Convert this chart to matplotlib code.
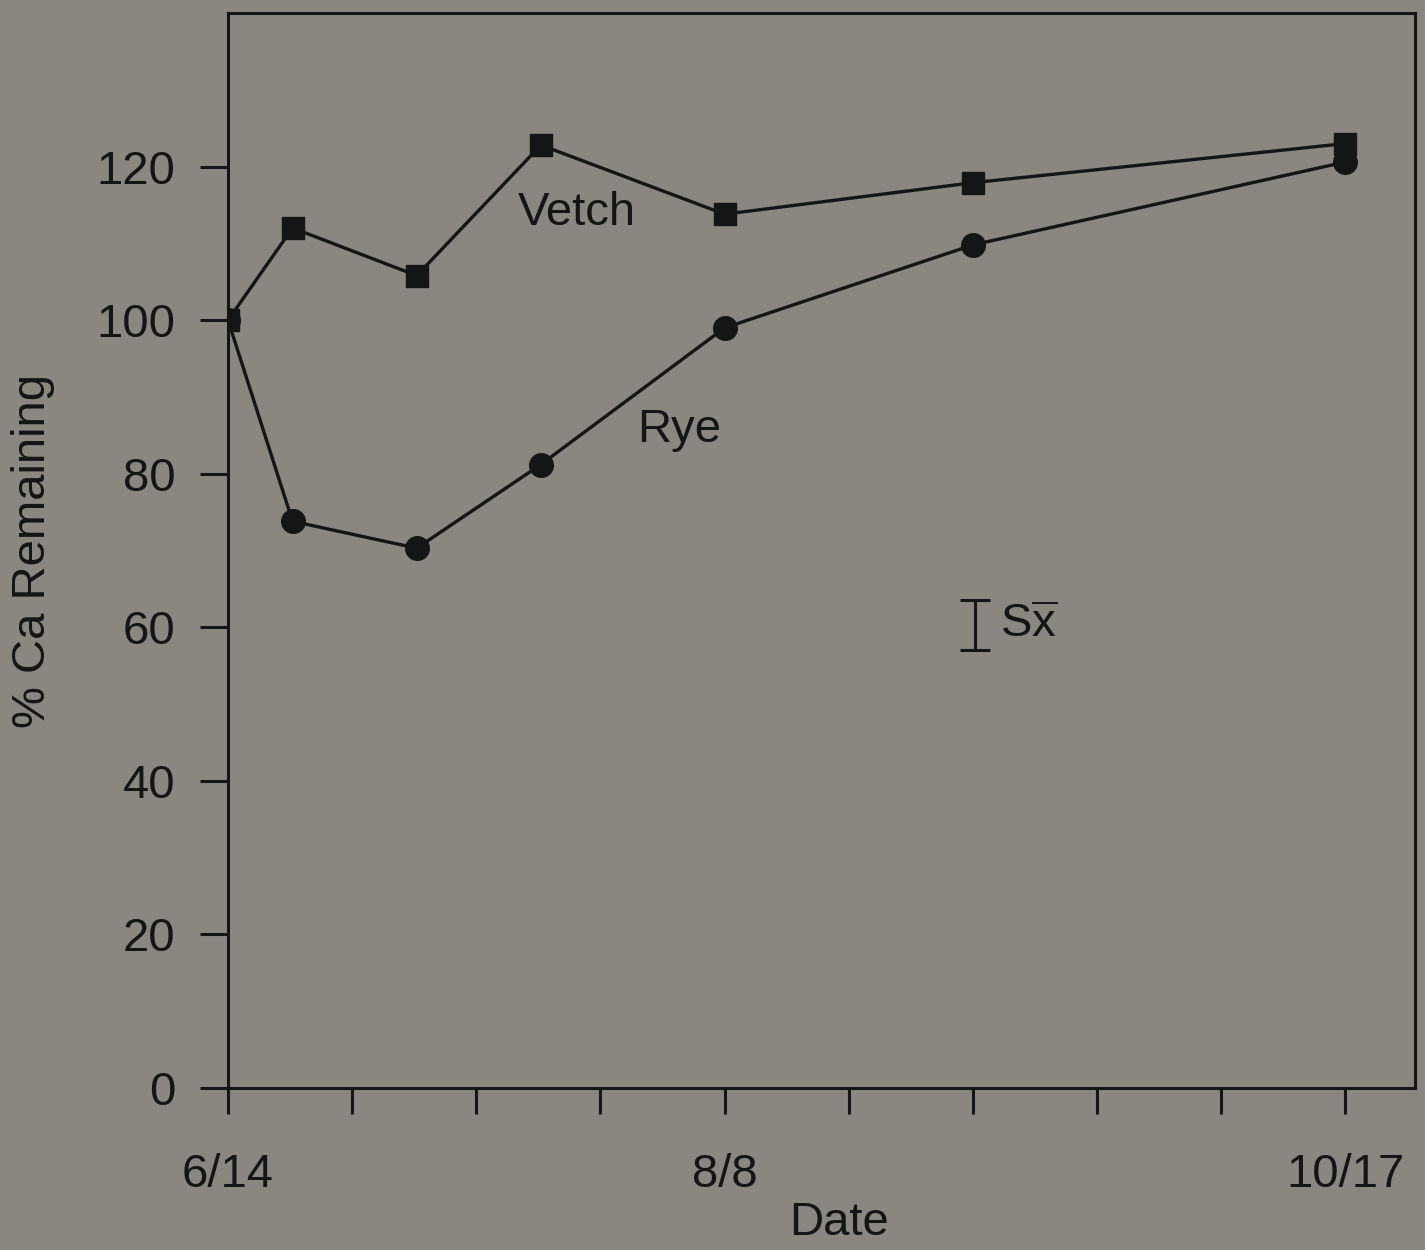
import matplotlib.pyplot as plt

plt.rcParams['font.family'] = ['Liberation Sans', 'DejaVu Sans']

# sampling positions on the date axis (one tick ~ two weeks)
sample_pos = [0, 0.52, 1.52, 2.52, 4, 6, 9]
vetch = [100, 112.0, 105.8, 122.8, 113.8, 117.9, 123.0]
rye = [100, 73.8, 70.3, 81.2, 99.0, 109.8, 120.6]

tick_pos = list(range(10))
tick_labels = ['6/14', '', '', '', '8/8', '', '', '', '', '10/17']

sx_pos = 6.02
sx_mid = 60.25
sx_half = 3.25

bg = '#8a8680'
ink = '#151515'
fs = 34

fig = plt.figure(figsize=(14.25, 12.5), dpi=100, facecolor=bg)
ax = fig.add_axes([0.16, 0.1296, 0.833, 0.86])
ax.set_facecolor(bg)

ax.plot(sample_pos, rye, '-', color=ink, lw=2.4, marker='o', ms=17, zorder=3)
ax.plot(sample_pos, vetch, '-', color=ink, lw=2.4, marker='s', ms=16, zorder=4)

ax.text(2.81, 113.9, 'Vetch', fontsize=fs, color=ink, ha='center', va='center')
ax.text(3.63, 85.7, 'Rye', fontsize=fs, color=ink, ha='center', va='center')

# standard error bar
ax.errorbar([sx_pos], [sx_mid], yerr=[sx_half], fmt='none', ecolor=ink,
            elinewidth=2.2, capsize=11, capthick=2.2)
ax.text(sx_pos + 0.2, sx_mid, r'$\mathregular{S\overline{x}}$', fontsize=fs,
        color=ink, ha='left', va='center')

ax.set_xlim(0, 9.56)
ax.set_ylim(0, 140)
ax.set_xticks(tick_pos)
ax.set_xticklabels(tick_labels)
ax.set_yticks([0, 20, 40, 60, 80, 100, 120])

for s in ax.spines.values():
    s.set_color(ink)
    s.set_linewidth(2.2)

ax.tick_params(axis='both', colors=ink, labelcolor=ink, labelsize=fs,
               width=2.2, direction='out')
ax.tick_params(axis='x', length=19, pad=28)
ax.tick_params(axis='y', length=20, pad=18)

ax.set_xlabel('Date', fontsize=fs, color=ink, labelpad=0)
ax.xaxis.set_label_coords(0.515, -0.105)
ax.set_ylabel('% Ca Remaining', fontsize=fs, color=ink)
ax.yaxis.set_label_coords(-0.146, 0.5)

fig.savefig('out.png', dpi=100, facecolor=bg)
